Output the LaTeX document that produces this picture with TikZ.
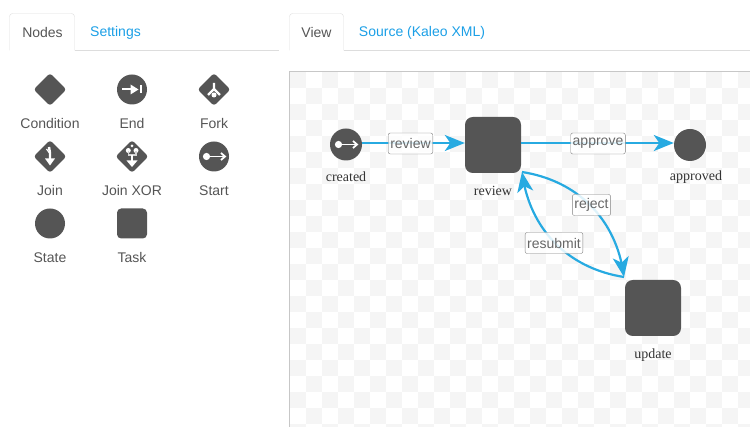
\documentclass[tikz,border=0pt]{standalone}
\usepackage{fontspec}
\setmainfont{Liberation Sans}
\newfontfamily\capfont{Liberation Serif}
\usetikzlibrary{arrows.meta,shapes.geometric,bending}
\definecolor{inkgray}{HTML}{555555}
\definecolor{tabgray}{HTML}{DDDDDD}
\definecolor{linkblue}{HTML}{1B9FE6}
\definecolor{edgeblue}{HTML}{27AAE1}
\tikzset{
  tabtext/.style={font=\fontsize{14}{16}\selectfont, text=inkgray},
  tablink/.style={font=\fontsize{14}{16}\selectfont, text=linkblue},
  palettext/.style={font=\fontsize{14}{16}\selectfont, text=inkgray},
  captext/.style={font=\capfont\fontsize{14}{16}\selectfont, text=black!80},
  roundicon/.style={circle, fill=inkgray, inner sep=0pt, minimum size=#1},
  squareicon/.style={rectangle, fill=inkgray, inner sep=0pt, minimum size=#1, rounded corners=#1*0.14},
  diamondicon/.style={diamond, fill=inkgray, inner sep=0pt, minimum size=33, rounded corners=3},
  flow/.style={draw=edgeblue, line width=2.2pt, -{Stealth[length=20pt,width=16pt,inset=5.5pt,flex=.75]}},
  flowtag/.style={draw=black!50, rounded corners=2, fill=white, fill opacity=.85, text opacity=1, text=black!60,
    font=\fontsize{14}{16}\selectfont, inner xsep=2pt, inner ysep=0pt, minimum height=21pt},
  glyph/.style={draw=white, line width=2.4pt},
  startmark/.pic={
    \fill[white] (-7.5,0) circle (3.6);
    \draw[white, line width=1.8pt] (-6,0) -- (10,0);
    \draw[white, line width=1.8pt] (7,-3.5) -- (11,0) -- (7,3.5);
  }
}
\begin{document}
\begin{tikzpicture}[x=1pt,y=-1pt]
\useasboundingbox (0,0) rectangle (750,427);
% canvas
\begin{scope}
\clip (290,72) rectangle (750,427);
\foreach \i in {0,...,28}{
  \foreach \j in {0,...,22}{
    \ifodd\numexpr\i+\j\relax\else
      \fill[black!4] (290+16*\i,72+16*\j) rectangle ++(16,16);
    \fi
  }
}
\end{scope}
\draw[black!22] (289.5,427) -- (289.5,71.5) -- (750,71.5);
% tabs
\draw[tabgray, rounded corners=3] (9.5,50.5) -- (9.5,13.5) -- (74.5,13.5) -- (74.5,50.5);
\draw[tabgray] (74.5,50.5) -- (279,50.5);
\draw[tabgray, rounded corners=3] (289.5,50.5) -- (289.5,13.5) -- (343.5,13.5) -- (343.5,50.5);
\draw[tabgray] (343.5,50.5) -- (750,50.5);
\node[tabtext] (tabnodes) at (42.5,33) {Nodes};
\node[tablink] (tabsettings) at (115.5,33) {Settings};
\node[tabtext] (tabview) at (316.5,33) {View};
\node[tablink] (tabsource) at (422,33) {Source (Kaleo XML)};
% palette
\node[diamondicon] (condition) at (50,89.5) {};
\node[palettext] (conditiontxt) at (50,123.5) {Condition};
\node[roundicon=30] (end) at (132,89.5) {};
\draw[white, line width=2pt] (122,89.5) -- (134,89.5);
\fill[white] (138.5,89.5) -- (130.5,84.5) -- (130.5,94.5) -- cycle;
\fill[white] (140,85.5) rectangle (142,93.5);
\node[palettext] (endtxt) at (132,123.5) {End};
\node[diamondicon] (fork) at (214,89.5) {};
\draw[glyph] (214,83) -- (214,89) -- (208,95);
\draw[glyph] (214,89) -- (220,95);
\fill[white] (214,95) circle (2.5);
\node[palettext] (forktxt) at (214,123.5) {Fork};
\node[diamondicon] (join) at (50,156.5) {};
\draw[glyph] (49,147) -- (50,153) -- (50,160);
\draw[white, line width=1.2pt] (46.5,149) -- (49.5,153);
\fill[white] (50,165.5) -- (45,158.5) -- (55,158.5) -- cycle;
\node[palettext] (jointxt) at (50,190.5) {Join};
\node[diamondicon] (joinxor) at (132,156.5) {};
\fill[white] (128.3,150.5) circle (2.5) (136,150.5) circle (2.5) (132,146) circle (1.5);
\draw[white!75!inkgray, line width=1.4pt] (128.3,151) -- (128.3,155) -- (136,155) -- (136,151);
\draw[white, line width=1.6pt] (132,155) -- (132,161);
\fill[white] (132,167) -- (126.5,160.5) -- (137.5,160.5) -- cycle;
\node[palettext] (joinxortxt) at (132,190.5) {Join XOR};
\node[roundicon=30] (start) at (214,156.5) {};
\pic at (214,156.5) {startmark};
\node[palettext] (starttxt) at (214,190.5) {Start};
\node[roundicon=30] (state) at (50,223.5) {};
\node[palettext] (statetxt) at (50,257.5) {State};
\node[squareicon=30] (task) at (132,223.5) {};
\node[palettext] (tasktxt) at (132,257.5) {Task};
% workflow
\node[roundicon=32] (created) at (346,144.5) {};
\pic at (346,144.5) {startmark};
\node[captext] (createdtxt) at (346,177) {created};
\node[squareicon=56] (review) at (493,145) {};
\node[captext] (reviewtxt) at (493,191) {review};
\node[roundicon=32] (approved) at (690,145) {};
\node[captext] (approvedtxt) at (696,177) {approved};
\node[squareicon=56] (update) at (653,308) {};
\node[captext] (updatetxt) at (653,355) {update};
\coordinate (updatein) at (624,277);
\coordinate (reviewin) at (522,172);
\draw[flow] ([yshift=1.5pt]created.east) -- ([yshift=2pt]review.west);
\draw[flow] ([yshift=2pt]review.east) -- ([yshift=2pt]approved.west);
\draw[flow] (reviewin) to[bend left=37] (updatein);
\draw[flow] (updatein) to[bend left=37] (reviewin);
\node[flowtag] (tagreview) at (410.5,143.5) {review};
\node[flowtag] (tagapprove) at (598,143.5) {approve};
\node[flowtag] (tagreject) at (591.5,205) {reject};
\node[flowtag] (tagresubmit) at (554,243) {resubmit};
\end{tikzpicture}
\end{document}
